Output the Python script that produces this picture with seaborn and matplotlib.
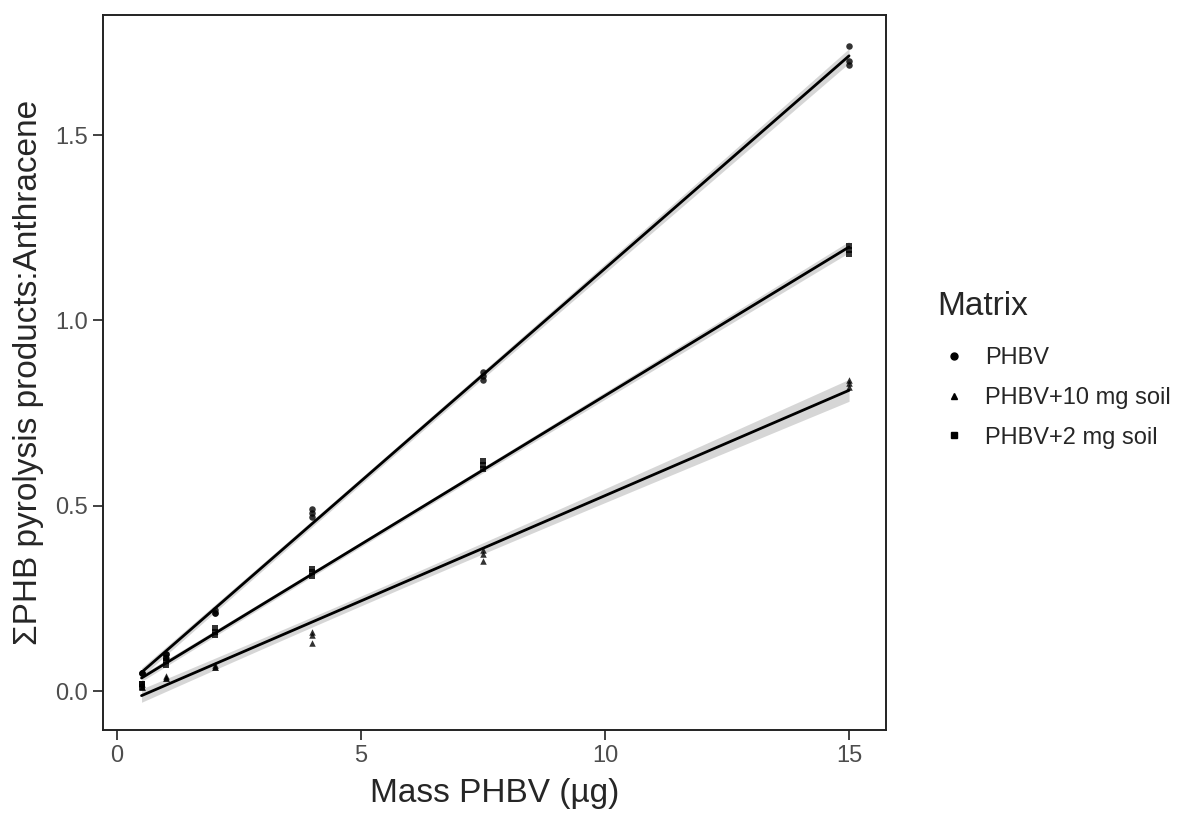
import numpy as np
import pandas as pd
import matplotlib
matplotlib.use("Agg")
import matplotlib.pyplot as plt
from matplotlib.lines import Line2D
import seaborn as sns

# masses (µg), three replicates each
mass = [0.5, 0.5, 0.5, 1, 1, 1, 2, 2, 2, 4, 4, 4, 7.5, 7.5, 7.5, 15, 15, 15]

phbv = [0.05, 0.05, 0.05, 0.09, 0.10, 0.10, 0.21, 0.21, 0.22,
        0.47, 0.48, 0.49, 0.84, 0.85, 0.86, 1.74, 1.70, 1.69]
phbv_10 = [0.01, 0.01, 0.02, 0.035, 0.035, 0.04, 0.065, 0.065, 0.07,
           0.13, 0.15, 0.16, 0.35, 0.37, 0.38, 0.82, 0.83, 0.84]
phbv_2 = [0.01, 0.02, 0.02, 0.07, 0.08, 0.09, 0.15, 0.16, 0.17,
          0.31, 0.32, 0.33, 0.60, 0.61, 0.62, 1.18, 1.19, 1.20]

groups = ["PHBV", "PHBV+10 mg soil", "PHBV+2 mg soil"]
markers = ["o", "^", "s"]

df = pd.concat([
    pd.DataFrame({"mass": mass, "ratio": vals, "Matrix": g})
    for g, vals in zip(groups, [phbv, phbv_10, phbv_2])
])

sns.set_style("white")
plt.rcParams["font.family"] = ["Liberation Sans", "DejaVu Sans"]

fig = plt.figure(figsize=(12.03, 8.14), dpi=100)
ax = fig.add_axes([0.0856, 0.1032, 0.651, 0.8784])

T_CRIT = 2.12  # t(0.975, df=16)
for g, m in zip(groups, markers):
    sub = df[df["Matrix"] == g]
    x = sub["mass"].to_numpy()
    y = sub["ratio"].to_numpy()
    # 95% confidence band of the linear fit (like geom_smooth(method="lm"))
    b, a = np.polyfit(x, y, 1)
    resid = y - (a + b * x)
    s = np.sqrt(np.sum(resid ** 2) / (len(x) - 2))
    grid = np.linspace(x.min(), x.max(), 100)
    se = s * np.sqrt(1 / len(x) + (grid - x.mean()) ** 2 / np.sum((x - x.mean()) ** 2))
    fit = a + b * grid
    ax.fill_between(grid, fit - T_CRIT * se, fit + T_CRIT * se,
                    color="#999999", alpha=0.4, lw=0, zorder=1)
    sns.regplot(data=sub, x="mass", y="ratio", ax=ax, marker=m, ci=None,
                color="black",
                scatter_kws={"s": 22, "linewidths": 0, "zorder": 3},
                line_kws={"lw": 2, "zorder": 2})

ax.set_xlim(-0.29, 15.76)
ax.set_ylim(-0.105, 1.824)
ax.set_xticks([0, 5, 10, 15])
ax.set_yticks([0.0, 0.5, 1.0, 1.5])
ax.set_yticklabels(["0.0", "0.5", "1.0", "1.5"])
ax.tick_params(axis="both", direction="out", length=7, width=1.3,
               color="#333333", labelsize=17, labelcolor="#4d4d4d",
               bottom=True, left=True, pad=4)
for sp in ax.spines.values():
    sp.set_color("#222222")
    sp.set_linewidth(1.4)
ax.set_xlabel("Mass PHBV (µg)", fontsize=24, labelpad=8)
ax.set_ylabel("ΣPHB pyrolysis products:Anthracene", fontsize=24, labelpad=8)

# legend: title as separate text so the gap matches ggplot
fig.text(937 / 1203, 1 - 306 / 814, "Matrix", fontsize=24, va="center",
         ha="left")
handles = [Line2D([], [], marker=m, color="black", linestyle="none",
                  markersize=5) for m in markers]
leg = fig.legend(handles, groups, loc="center left",
                 bbox_to_anchor=(0.760, 1 - 398 / 814), frameon=False,
                 fontsize=17, handletextpad=0.5, handlelength=1.6,
                 labelspacing=0.75)

fig.savefig("out.png", dpi=100)
